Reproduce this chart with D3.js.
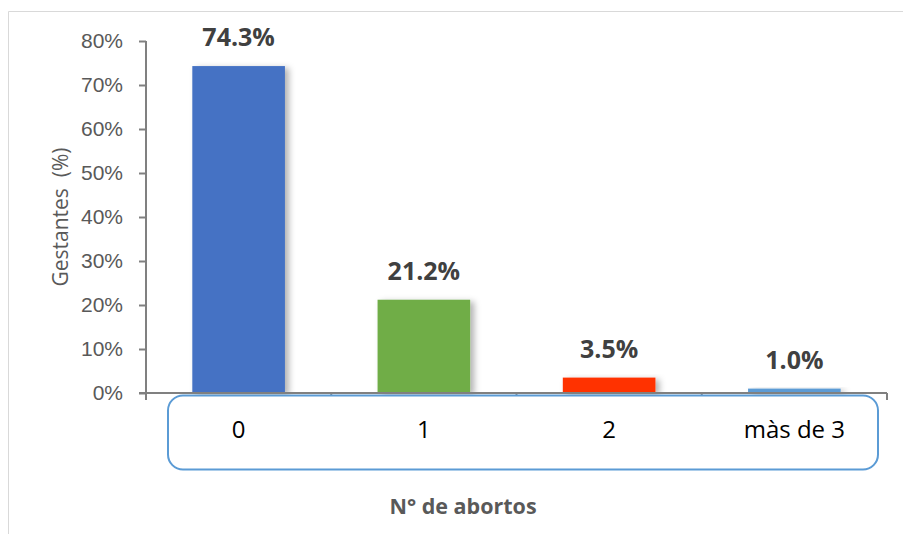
<!DOCTYPE html>
<html>
<head>
<meta charset="utf-8">
<script src="https://cdn.jsdelivr.net/npm/d3@7"></script>
<style>
  html, body { margin: 0; padding: 0; background: #fff; }
  svg { display: block; font-family: "Open Sans", "Liberation Sans", sans-serif; }
</style>
</head>
<body>
<svg id="chart" width="903" height="534"></svg>
<script>
// Number of previous abortions among pregnant women (%)
const categories = ["0", "1", "2", "màs de 3"];
const values = [74.3, 21.2, 3.5, 1.0];
const barColors = ["#4472C4", "#70AD47", "#FF3300", "#5B9BD5"];
const yTicks = [0, 10, 20, 30, 40, 50, 60, 70, 80];
const yTitle = "Gestantes  (%)";
const xTitle = "N° de abortos";

const svg = d3.select("#chart");
const margin = { left: 146, right: 16, top: 41, bottom: 141 };
const W = 903, H = 534;

// outer chart frame
svg.append("path")
  .attr("d", "M8.5,534 L8.5,11.5 L903,11.5")
  .attr("fill", "none")
  .attr("stroke", "#d9d9d9")
  .attr("stroke-width", 1);

const x = d3.scaleBand()
  .domain(categories)
  .range([margin.left, W - margin.right])
  .paddingInner(0.5)
  .paddingOuter(0.25);

const y = d3.scaleLinear()
  .domain([0, 80])
  .range([H - margin.bottom, margin.top]);

// soft shadow behind bars
const defs = svg.append("defs");
const f = defs.append("filter").attr("id", "shadow")
  .attr("x", "-20%").attr("y", "-20%").attr("width", "150%").attr("height", "150%");
f.append("feDropShadow")
  .attr("dx", 4).attr("dy", 2).attr("stdDeviation", 3)
  .attr("flood-color", "#000").attr("flood-opacity", 0.3);

// bars
svg.append("g").selectAll("rect")
  .data(values)
  .join("rect")
  .attr("x", (d, i) => x(categories[i]))
  .attr("y", d => y(d))
  .attr("width", x.bandwidth())
  .attr("height", d => y(0) - y(d))
  .attr("fill", (d, i) => barColors[i])
  .attr("filter", "url(#shadow)");

// y axis
const yAxis = d3.axisLeft(y)
  .tickValues(yTicks)
  .tickFormat(d => d + "%")
  .tickSize(7)
  .tickPadding(16);
const gy = svg.append("g")
  .attr("transform", `translate(${margin.left},0)`)
  .call(yAxis);
gy.select(".domain")
  .attr("d", `M0,${y(80)}V${y(0) + 7}`)
  .attr("stroke", "#808080").attr("stroke-width", 2);
gy.selectAll(".tick line").attr("stroke", "#808080").attr("stroke-width", 2);
gy.selectAll(".tick text")
  .attr("fill", "#595959")
  .style("font-size", "21px");

// x axis baseline with category boundary ticks
const xLeft = margin.left - 7, xRight = W - margin.right;
const gx = svg.append("g");
gx.append("line")
  .attr("x1", xLeft).attr("x2", xRight)
  .attr("y1", y(0)).attr("y2", y(0))
  .attr("stroke", "#808080").attr("stroke-width", 2);
const step = (W - margin.right - margin.left) / categories.length;
gx.selectAll("line.bt")
  .data(d3.range(1, categories.length + 1))
  .join("line")
  .attr("class", "bt")
  .attr("x1", i => margin.left + i * step)
  .attr("x2", i => margin.left + i * step)
  .attr("y1", y(0)).attr("y2", y(0) + 7)
  .attr("stroke", "#808080").attr("stroke-width", 2);

// rounded box around category labels
svg.append("rect")
  .attr("x", 168).attr("y", 395.5)
  .attr("width", 710).attr("height", 74)
  .attr("rx", 15).attr("ry", 15)
  .attr("fill", "#fff")
  .attr("stroke", "#5B9BD5")
  .attr("stroke-width", 2);

svg.append("g").selectAll("text")
  .data(categories)
  .join("text")
  .attr("x", d => x(d) + x.bandwidth() / 2)
  .attr("y", 438)
  .attr("text-anchor", "middle")
  .attr("fill", "#000")
  .style("font-size", "24px")
  .text(d => d);

// value labels
svg.append("g").selectAll("text")
  .data(values)
  .join("text")
  .attr("x", (d, i) => x(categories[i]) + x.bandwidth() / 2)
  .attr("y", d => y(d) - 20)
  .attr("text-anchor", "middle")
  .attr("fill", "#404040")
  .style("font-size", "25px")
  .style("font-weight", "bold")
  .text(d => d.toFixed(1) + "%");

// axis titles
svg.append("text")
  .attr("transform", `translate(68,217) rotate(-90)`)
  .attr("text-anchor", "middle")
  .attr("fill", "#595959")
  .style("font-size", "21px")
  .style("white-space", "pre")
  .text(yTitle);

svg.append("text")
  .attr("x", 463).attr("y", 514)
  .attr("text-anchor", "middle")
  .attr("fill", "#595959")
  .style("font-size", "21.5px")
  .style("font-weight", "bold")
  .text(xTitle);
</script>
</body>
</html>
